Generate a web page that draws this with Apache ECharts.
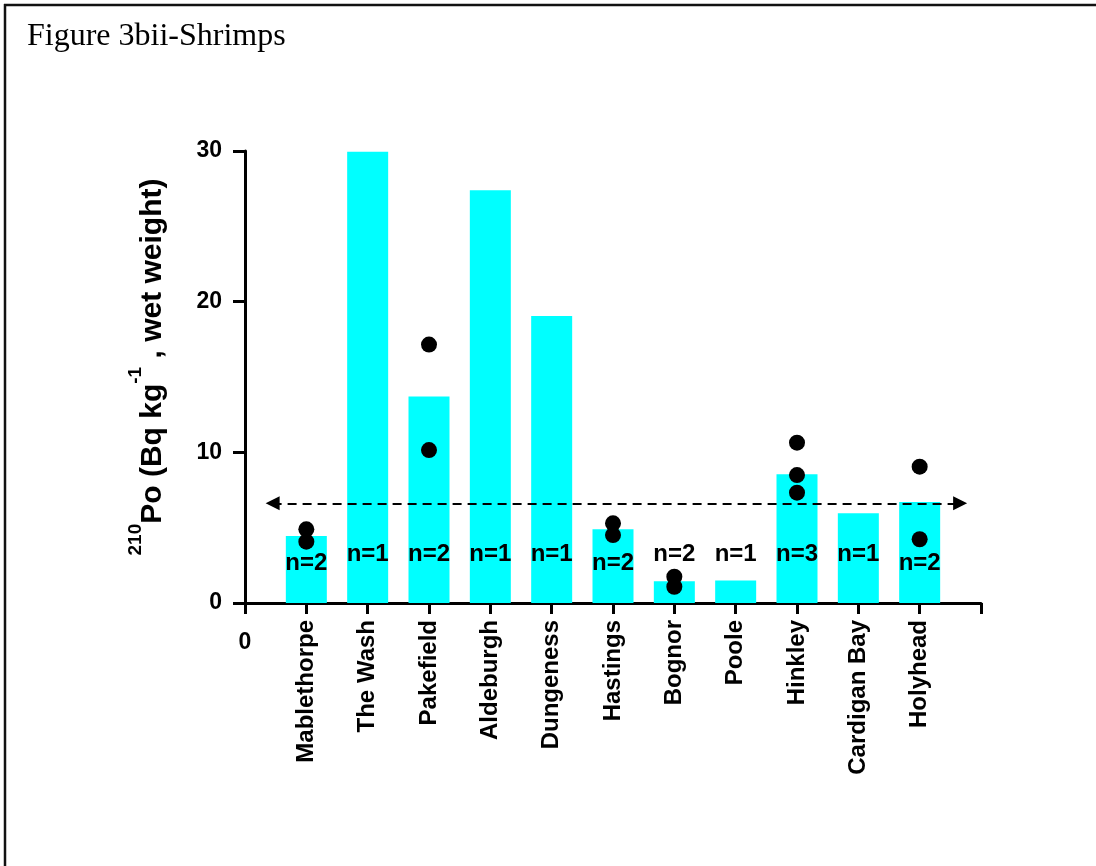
<!DOCTYPE html>
<html>
<head>
<meta charset="utf-8">
<script src="https://cdn.jsdelivr.net/npm/echarts@6/dist/echarts.min.js"></script>
<style>
  html, body { margin: 0; padding: 0; background: #fff; }
  #chart { width: 1096px; height: 866px; }
</style>
</head>
<body>
<div id="chart"></div>
<script>
// Sampling sites along the coast
const categories = ['Mablethorpe', 'The Wash', 'Pakefield', 'Aldeburgh', 'Dungeness', 'Hastings', 'Bognor', 'Poole', 'Hinkley', 'Cardigan Bay', 'Holyhead'];
// Mean 210Po activity per site (Bq/kg, wet weight)
const meanValues = [4.45, 29.95, 13.7, 27.4, 19.05, 4.9, 1.45, 1.5, 8.55, 5.95, 6.7];
// Individual sample results per site
const sampleValues = [[4.89, 4.07], [], [17.15, 10.15], [], [], [5.29, 4.51], [1.75, 1.08], [], [10.64, 8.49, 7.32], [], [9.05, 4.23]];
// Number of samples per site
const sampleCounts = [2, 1, 2, 1, 1, 2, 2, 1, 3, 1, 2];
// Overall reference level drawn as a dashed arrow line
const referenceLevel = 6.62;
const yTicks = [0, 10, 20, 30];

const FONT = '"Liberation Sans", Arial, Helvetica, sans-serif';
const chart = echarts.init(document.getElementById('chart'), null, { renderer: 'canvas' });

const barData = meanValues.map((v, i) => [i + 1, v]);
const dotData = [];
sampleValues.forEach((arr, i) => arr.forEach(v => dotData.push([i + 1, v])));

// "n=" labels sit low in the bar; nudged down where a sample dot sits just above
const countData = sampleCounts.map((n, i) => {
  const s = sampleValues[i];
  const low = s.length && Math.min(...s) > 3.5 && Math.min(...s) < 5;
  return { value: [i + 1, low ? 2.65 : 3.2], n: n };
});

const option = {
  animation: false,
  backgroundColor: '#fff',
  grid: { left: 245, top: 151, right: 115, bottom: 263, containLabel: false },
  xAxis: [
    {
      type: 'value', min: 0, max: categories.length + 1, interval: 1,
      axisLine: { show: true, onZero: false, lineStyle: { color: '#000', width: 3 } },
      axisTick: { show: true, length: 11, lineStyle: { color: '#000', width: 3 } },
      splitLine: { show: false },
      axisLabel: {
        margin: 28, color: '#000', fontFamily: FONT, fontWeight: 'bold', fontSize: 23,
        formatter: v => (v === 0 ? '0' : '')
      }
    },
    {
      type: 'value', min: 0, max: categories.length + 1, interval: 1, position: 'bottom',
      axisLine: { show: false }, axisTick: { show: false }, splitLine: { show: false },
      axisLabel: {
        rotate: 90, margin: 17, color: '#000', fontFamily: FONT, fontWeight: 'bold', fontSize: 24,
        formatter: v => categories[v - 1] || ''
      }
    }
  ],
  yAxis: {
    type: 'value', min: yTicks[0], max: yTicks[yTicks.length - 1], interval: yTicks[1] - yTicks[0],
    axisLine: { show: true, onZero: false, lineStyle: { color: '#000', width: 3 } },
    axisTick: { show: true, length: 12, lineStyle: { color: '#000', width: 3 } },
    splitLine: { show: false },
    axisLabel: { margin: 23, color: '#000', fontFamily: FONT, fontWeight: 'bold', fontSize: 23 }
  },
  series: [
    {
      type: 'bar', xAxisIndex: 0, data: barData, barWidth: 41,
      itemStyle: { color: '#00FFFF', opacity: 1 }, silent: true, z: 2,
      markLine: {
        silent: true, symbol: ['triangle', 'triangle'], symbolSize: 14,
        label: { show: false },
        lineStyle: { color: '#000', width: 2, type: [9, 6], opacity: 1 },
        emphasis: { disabled: true },
        data: [[{ coord: [0.45, referenceLevel] }, { coord: [11.66, referenceLevel] }]]
      }
    },
    {
      type: 'scatter', xAxisIndex: 0, data: countData, symbolSize: 1,
      itemStyle: { color: 'rgba(0,0,0,0)', opacity: 1 }, silent: true, z: 3,
      label: {
        show: true, position: 'inside', color: '#000', fontFamily: FONT, fontWeight: 'bold', fontSize: 24,
        formatter: p => 'n=' + p.data.n
      }
    },
    {
      type: 'scatter', xAxisIndex: 0, data: dotData, symbol: 'circle', symbolSize: 16,
      itemStyle: { color: '#000', opacity: 1 }, silent: true, z: 4
    }
  ],
  graphic: [
    // frame lines
    { type: 'line', shape: { x1: 4, y1: 5, x2: 1096, y2: 5 }, style: { stroke: '#111', lineWidth: 2.5 } },
    { type: 'line', shape: { x1: 5, y1: 4, x2: 5, y2: 866 }, style: { stroke: '#111', lineWidth: 2.5 } },
    {
      type: 'text', left: 27, top: 21,
      style: { text: 'Figure 3bii-Shrimps', font: '32px "Liberation Serif", "Times New Roman", serif', fill: '#000' }
    },
    {
      type: 'text', x: 147, y: 367, rotation: Math.PI / 2,
      style: {
        text: '{sup|210}{main|Po (Bq kg}{sup|-1}{main| , wet weight)}',
        align: 'center', verticalAlign: 'middle', fill: '#000',
        rich: {
          main: { fontFamily: FONT, fontWeight: 'bold', fontSize: 30, lineHeight: 42, verticalAlign: 'bottom', fill: '#000' },
          sup: { fontFamily: FONT, fontWeight: 'bold', fontSize: 19, lineHeight: 42, verticalAlign: 'top', fill: '#000' }
        }
      }
    }
  ]
};
chart.setOption(option);
</script>
</body>
</html>
